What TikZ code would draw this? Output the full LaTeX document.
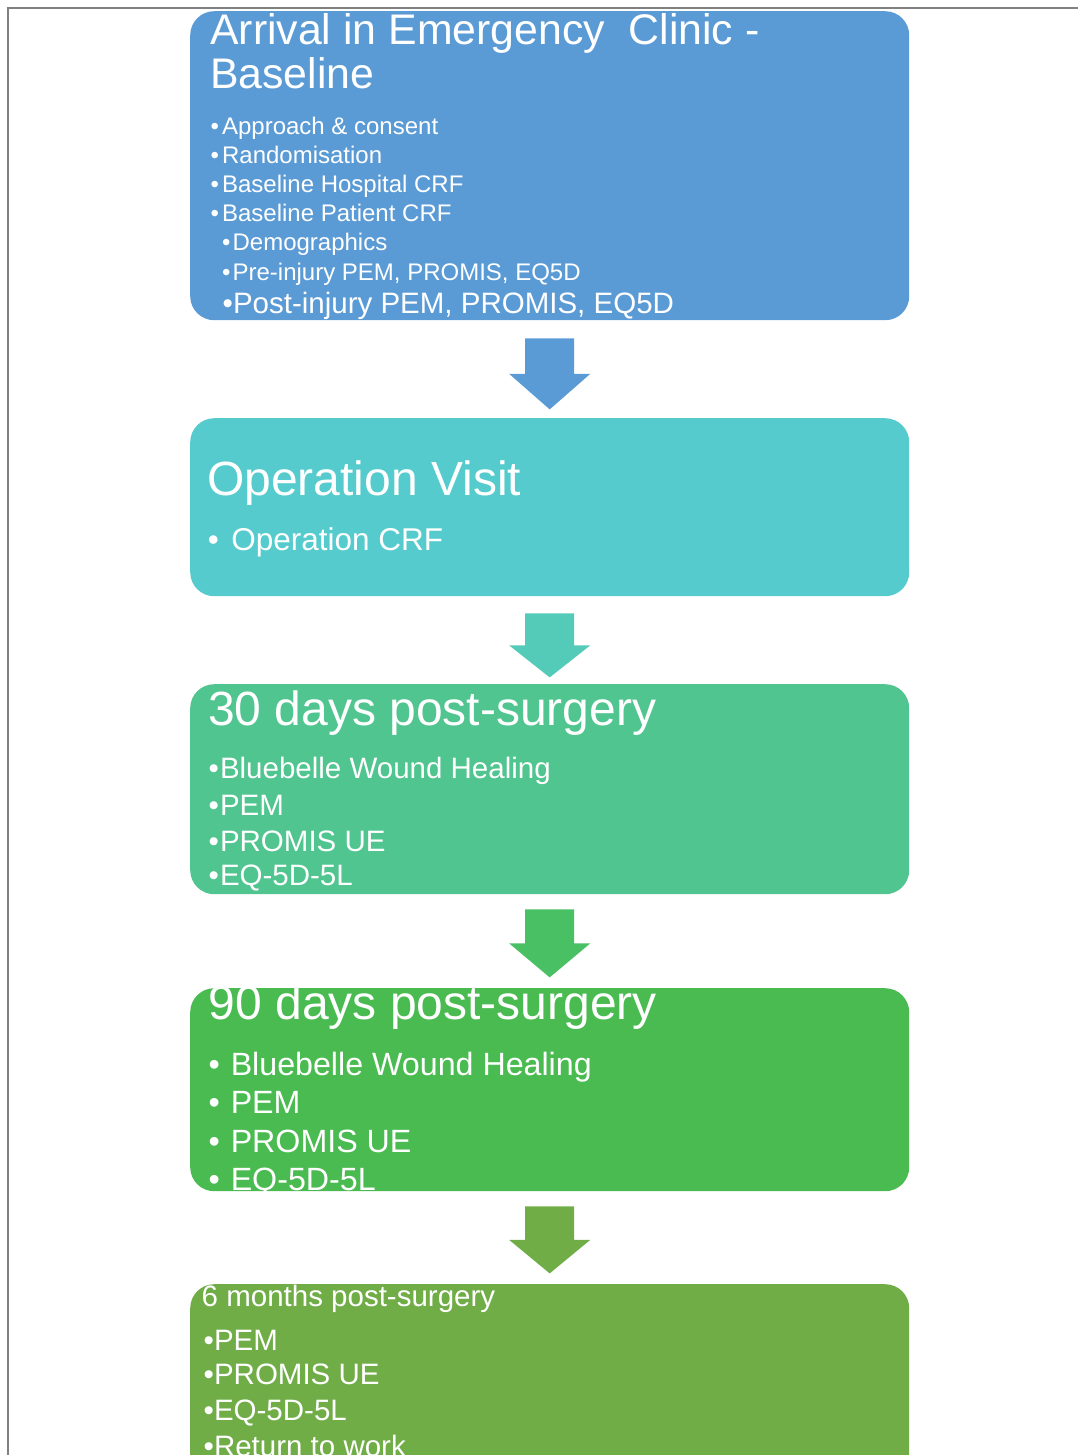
\documentclass[tikz,border=0pt]{standalone}
\usepackage{fontspec}
\setmainfont{Liberation Sans}
\usepackage{tikz}
\usetikzlibrary{calc}
\definecolor{boxA}{HTML}{5B9BD5}
\definecolor{boxB}{HTML}{56CBCD}
\definecolor{boxC}{HTML}{50C58F}
\definecolor{boxD}{HTML}{4ABB50}
\definecolor{boxE}{HTML}{70AD47}
\definecolor{arrB}{HTML}{54CBB9}
\definecolor{arrC}{HTML}{4AC064}
\newcommand{\fsz}[1]{\fontsize{#1}{#1}\selectfont}
\newcommand{\flowarrow}[3]{%
  \fill[#1] (#2) ++(-24.5,0) -- ++(49,0) -- ++(0,#3/2) -- ++(16,0) -- ++(-40.5,#3/2) -- ++(-40.5,-#3/2) -- ++(16,0) -- cycle;}
\tikzset{
  box/.style={rectangle,rounded corners=24pt,minimum width=719pt,inner sep=0pt,anchor=north west},
  txt/.style={text=white,anchor=base west,inner sep=0pt}
}

\begin{document}
\begin{tikzpicture}[x=1pt,y=-1pt]
\useasboundingbox (0,0) rectangle (1078,1455);
\draw[line width=1.5pt,gray] (8,1455) -- (8,8) -- (1078,8);
    % boxes
    \node[box,fill=boxA,minimum height=309pt] (b1) at (190,11) {};
    \node[box,fill=boxB,minimum height=178pt] (b2) at (190,418) {};
    \node[box,fill=boxC,minimum height=210pt] (b3) at (190,684) {};
    \node[box,fill=boxD,minimum height=203pt] (b4) at (190,988) {};
    \node[box,fill=boxE,minimum height=240pt] (b5) at (190,1284) {};
    % arrows
    \coordinate (a1) at ($(b1.south)+(0,18)$);
    \coordinate (a2) at ($(b2.south)+(0,17)$);
    \coordinate (a3) at ($(b3.south)+(0,15)$);
    \coordinate (a4) at ($(b4.south)+(0,15)$);
    \flowarrow{boxA}{a1}{71}
    \flowarrow{arrB}{a2}{64}
    \flowarrow{arrC}{a3}{68}
    \flowarrow{boxE}{a4}{67}
    % baseline
    \node[txt] (t1) at (210,45) {\fsz{42.8}Arrival in Emergency\ \ Clinic -};
    \node[txt] (t1b) at (210,89) {\fsz{42.8}Baseline};
    \node[txt] (l11) at (210.5,135) {\fsz{24}•\hspace{3pt}Approach \& consent};
    \node[txt] (l12) at (210.5,164) {\fsz{24}•\hspace{3pt}Randomisation};
    \node[txt] (l13) at (210.5,193) {\fsz{24}•\hspace{3pt}Baseline Hospital CRF};
    \node[txt] (l14) at (210.5,222) {\fsz{24}•\hspace{3pt}Baseline Patient CRF};
    \node[txt] (l15) at (222,251) {\fsz{24}•\hspace{2pt}Demographics};
    \node[txt] (l16) at (222,280) {\fsz{24}•\hspace{2pt}Pre-injury PEM, PROMIS, EQ5D};
    \node[txt] (l17) at (222.5,313) {\fsz{29.5}•Post-injury PEM, PROMIS, EQ5D};
    % operation
    \node[txt] (t2) at (207,495) {\fsz{48}Operation Visit};
    \node[txt] (l21) at (207.7,550) {\fsz{31.5}•\hspace{12.4pt}Operation CRF};
    % 30 days
    \node[txt] (t3) at (208,725) {\fsz{48}30 days post-surgery};
    \node[txt] (l31) at (208.5,778) {\fsz{29.5}•\hspace{1pt}Bluebelle Wound Healing};
    \node[txt] (l32) at (208.5,815) {\fsz{29.5}•\hspace{1pt}PEM};
    \node[txt] (l33) at (208.5,851) {\fsz{29.5}•\hspace{1pt}PROMIS UE};
    \node[txt] (l34) at (208.5,885) {\fsz{29.5}•\hspace{1pt}EQ-5D-5L};
    % 90 days
    \node[txt] (t4) at (208.5,1019) {\fsz{48}90 days post-surgery};
    \node[txt] (l41) at (208.3,1075) {\fsz{32.2}•\hspace{11pt}Bluebelle Wound Healing};
    \node[txt] (l42) at (208.3,1113) {\fsz{32.2}•\hspace{11pt}PEM};
    \node[txt] (l43) at (208.3,1152) {\fsz{32.2}•\hspace{11pt}PROMIS UE};
    \begin{scope}
    \clip[rounded corners=24pt] (b4.north west) rectangle (b4.south east);
    \node[txt] (l44) at (208.3,1190) {\fsz{32.2}•\hspace{11pt}EQ-5D-5L};
    \end{scope}
    % 6 months
    \node[txt] (t5) at (201.5,1306) {\fsz{29.5}6 months post-surgery};
    \node[txt] (l51) at (203.5,1350) {\fsz{29.5}•PEM};
    \node[txt] (l52) at (203.5,1384) {\fsz{29.5}•PROMIS UE};
    \node[txt] (l53) at (203.5,1420) {\fsz{29.5}•EQ-5D-5L};
    \node[txt] (l54) at (203.5,1456) {\fsz{29.5}•Return to work};
\end{tikzpicture}
\end{document}
